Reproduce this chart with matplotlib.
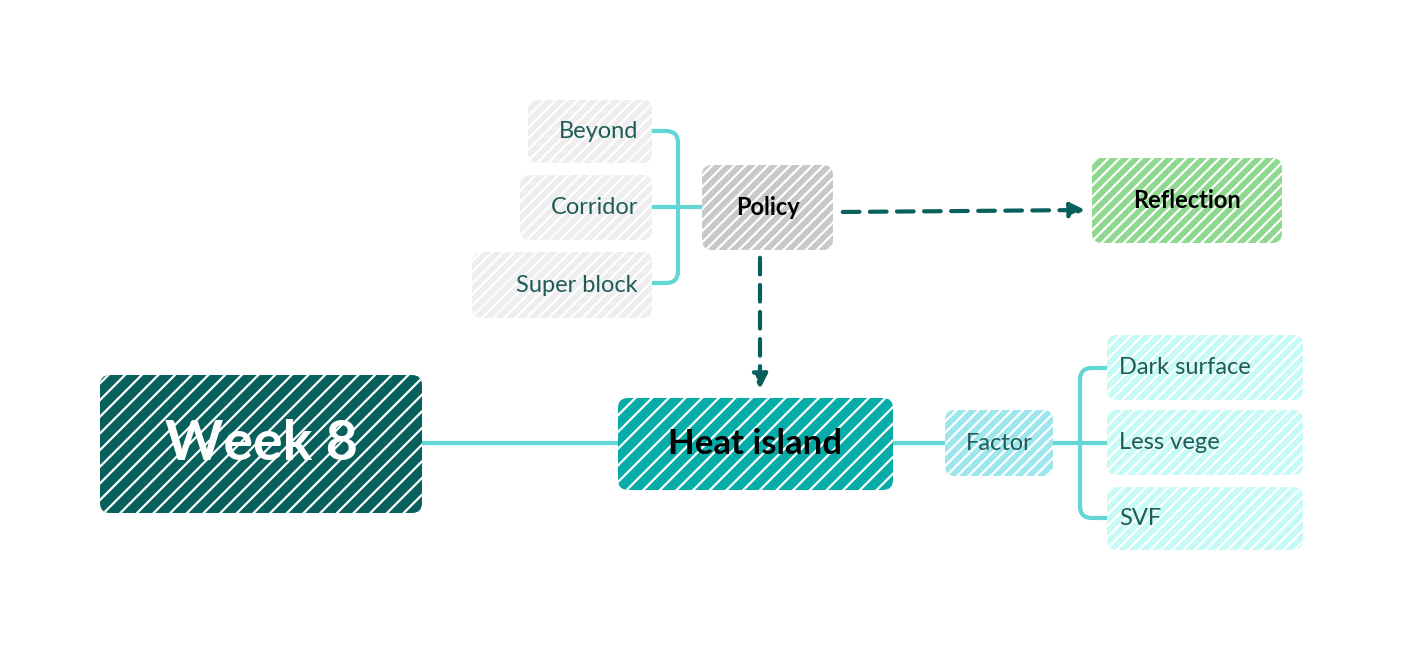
import matplotlib.pyplot as plt
from matplotlib.patches import FancyBboxPatch, PathPatch
from matplotlib.path import Path

# labels of the mind map
centre = "Week 8"
topic = "Heat island"
policy = "Policy"
reflection = "Reflection"
policy_items = ["Beyond", "Corridor", "Super block"]
factor = "Factor"
factor_items = ["Dark surface", "Less vege", "SVF"]

plt.rcParams['font.family'] = ['Lato', 'DejaVu Sans']
plt.rcParams['hatch.linewidth'] = 1.6

fig = plt.figure(figsize=(14.02, 6.5), dpi=100)
ax = fig.add_axes([0, 0, 1, 1])
ax.set_xlim(0, 1402)
ax.set_ylim(650, 0)
ax.axis('off')

line_c = '#62d5d5'
dark = '#07605c'
txt_c = '#1f5b58'


def box(x0, y0, x1, y1, face, label, size, color, bold=False, ha='center', hatch='///'):
    p = FancyBboxPatch((x0, y0), x1 - x0, y1 - y0, boxstyle="round,pad=0,rounding_size=10",
                       facecolor=face, edgecolor='white', linewidth=0, hatch=hatch, zorder=2)
    ax.add_patch(p)
    if ha == 'center':
        tx = (x0 + x1) / 2
    elif ha == 'right':
        tx = x1 - 14
    else:
        tx = x0 + 12
    ax.text(tx, (y0 + y1) / 2, label, ha=ha, va='center', fontsize=size, color=color,
            fontweight='bold' if bold else 'normal', zorder=3)


def bracket(xs, xb, ys, side_out):
    # rounded bracket from ys[0] to ys[-1] at x=xb, with stubs to xs
    r = 12
    top, bot = ys[0], ys[-1]
    d = 1 if side_out > xb else -1
    verts = [(side_out, top), (xb + d * r, top), (xb, top), (xb, top + r),
             (xb, bot - r), (xb, bot), (xb + d * r, bot), (side_out, bot)]
    codes = [Path.MOVETO, Path.LINETO, Path.CURVE3, Path.CURVE3,
             Path.LINETO, Path.CURVE3, Path.CURVE3, Path.LINETO]
    ax.add_patch(PathPatch(Path(verts, codes), fill=False, edgecolor=line_c, lw=3, zorder=1))
    for y in ys[1:-1]:
        ax.plot([xb, side_out], [y, y], color=line_c, lw=3, zorder=1)
    ax.plot([xs, xb], [(top + bot) / 2] * 2, color=line_c, lw=3, zorder=1)


# connectors
ax.plot([420, 620], [443, 443], color=line_c, lw=3, zorder=1)
ax.plot([890, 948], [443, 443], color=line_c, lw=3, zorder=1)
bracket(1053, 1080, [368, 443, 518], 1110)
bracket(702, 678, [131, 207, 283], 650)

ax.annotate("", xy=(1088, 210), xytext=(840, 212),
            arrowprops=dict(arrowstyle='-|>', color=dark, lw=3, linestyle=(0, (4, 2.5)), mutation_scale=22))
ax.annotate("", xy=(760, 392), xytext=(760, 255),
            arrowprops=dict(arrowstyle='-|>', color=dark, lw=3, linestyle=(0, (4, 2.5)), mutation_scale=22))

# nodes
box(100, 375, 422, 513, dark, centre, 40, 'white', bold=True, hatch='//')
box(618, 398, 893, 490, '#06ada8', topic, 25, 'black', bold=True, hatch='//')
box(702, 165, 833, 250, '#c8c8c8', policy, 17, 'black', bold=True)
box(1092, 158, 1282, 243, '#8ed98f', reflection, 17, 'black', bold=True)
box(945, 410, 1053, 476, '#9ee6ee', factor, 17, txt_c)

for (y0, y1, x0), lab in zip([(100, 163, 528), (175, 240, 520), (252, 318, 472)], policy_items):
    box(x0, y0, 652, y1, '#eeeeee', lab, 17, txt_c, ha='right')
for (y0, y1), lab in zip([(335, 400), (410, 475), (487, 550)], factor_items):
    box(1107, y0, 1303, y1, '#c5faf6', lab, 17, txt_c, ha='left')

fig.savefig('out.png', dpi=100)
